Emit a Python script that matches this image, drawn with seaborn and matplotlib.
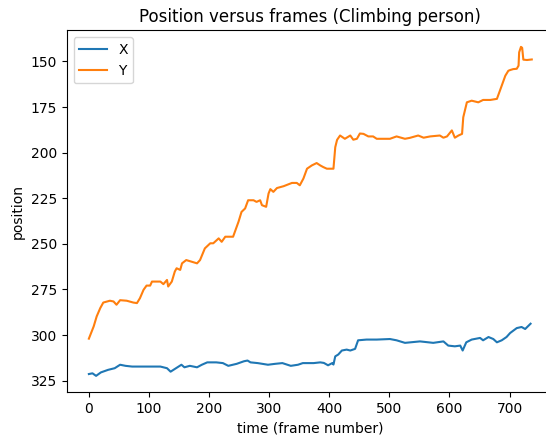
import matplotlib
matplotlib.use("Agg")
import matplotlib.pyplot as plt
import seaborn as sns
import pandas as pd

# Horizontal position (X) of the tracked climber, sampled frames
x_frames = [0, 6, 12, 20, 32, 43, 52, 61, 72, 96, 119, 130, 136, 145, 154, 159, 168,
            180, 188, 197, 212, 223, 232, 246, 258, 264, 269, 281, 298, 310, 322, 336,
            348, 356, 374, 385, 391, 398, 405, 407, 410, 415, 421, 429, 435, 443, 448,
            462, 479, 501, 512, 526, 551, 573, 590, 598, 609, 618, 622, 628, 637, 651,
            656, 665, 673, 679, 687, 695, 701, 712, 720, 726, 735]
x_values = [321.4, 321.0, 322.4, 320.5, 319.1, 318.2, 316.3, 316.9, 317.3, 317.3, 317.3,
            318.2, 320.1, 318.2, 316.3, 317.7, 316.9, 317.7, 316.3, 315.0, 315.0, 315.4,
            316.9, 315.8, 314.4, 314.0, 315.0, 315.4, 316.3, 315.8, 315.4, 316.9, 316.3,
            315.4, 315.4, 315.0, 315.3, 316.6, 315.4, 316.2, 311.7, 310.7, 308.5, 308.0,
            308.5, 307.6, 302.9, 302.5, 302.5, 302.2, 302.9, 304.3, 303.5, 304.3, 303.5,
            305.8, 306.2, 305.8, 308.5, 304.0, 302.5, 301.6, 302.9, 301.1, 302.2, 304.0,
            302.9, 301.1, 298.9, 296.2, 295.6, 296.7, 293.8]

# Vertical position (Y) of the tracked climber, sampled frames
y_frames = [0, 8, 13, 19, 24, 35, 41, 46, 52, 63, 74, 80, 85, 91, 96, 102, 105, 119,
            124, 130, 132, 138, 143, 146, 152, 155, 162, 171, 180, 185, 193, 202, 207,
            216, 221, 227, 240, 249, 254, 260, 265, 274, 279, 285, 288, 295, 299, 302,
            307, 313, 324, 338, 346, 351, 357, 363, 371, 379, 385, 390, 396, 407, 410,
            413, 418, 426, 435, 440, 446, 451, 457, 465, 473, 479, 490, 501, 512, 526,
            534, 548, 557, 568, 584, 590, 596, 604, 609, 615, 621, 623, 629, 637, 648,
            656, 668, 679, 684, 693, 698, 701, 706, 712, 715, 716, 719, 721, 723, 729, 737]
y_values = [302.0, 295.3, 289.8, 285.2, 282.2, 281.2, 281.6, 283.4, 280.9, 281.2, 282.2,
            282.5, 279.8, 275.2, 272.9, 272.9, 270.7, 270.7, 272.1, 269.8, 273.4, 270.7,
            265.2, 263.4, 264.3, 260.7, 258.9, 259.8, 260.7, 258.9, 252.5, 249.7, 249.7,
            247.0, 248.9, 246.1, 246.1, 237.9, 232.5, 230.6, 226.1, 226.1, 227.0, 226.1,
            228.8, 229.7, 222.4, 220.0, 221.5, 219.4, 218.4, 216.6, 216.6, 217.9, 214.2,
            208.8, 207.0, 205.7, 207.0, 207.9, 208.8, 208.8, 197.0, 193.0, 190.6, 192.4,
            190.6, 192.9, 192.4, 189.5, 189.7, 191.1, 191.1, 192.4, 192.4, 192.4, 191.1,
            192.4, 191.9, 190.6, 191.8, 191.1, 190.6, 191.8, 191.1, 187.8, 191.8, 190.6,
            189.7, 180.6, 172.4, 171.5, 172.4, 171.1, 171.1, 170.5, 166.0, 157.8, 155.1,
            154.7, 154.2, 154.0, 152.3, 145.0, 142.0, 142.5, 149.0, 149.2, 148.9]

df_x = pd.DataFrame({"frame": x_frames, "position": x_values})
df_y = pd.DataFrame({"frame": y_frames, "position": y_values})

fig = plt.figure(figsize=(5.46, 4.36), dpi=100)
ax = fig.add_axes([0.1222, 0.1002, 0.8923, 0.830])

sns.lineplot(data=df_x, x="frame", y="position", ax=ax, color="#1f77b4", label="X")
sns.lineplot(data=df_y, x="frame", y="position", ax=ax, color="#ff7f0e", label="Y")

ax.invert_yaxis()
ax.set_title("Position versus frames (Climbing person)")
ax.set_xlabel("time (frame number)")
ax.set_ylabel("position")
ax.legend(loc="upper left")

fig.savefig("out.png", dpi=100)
